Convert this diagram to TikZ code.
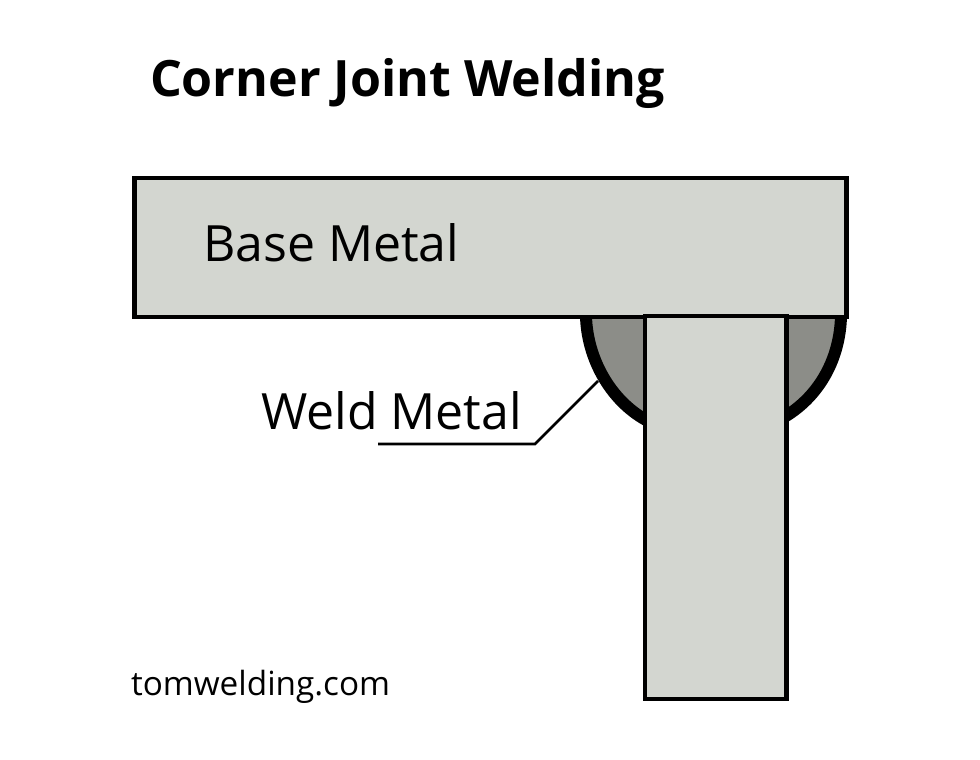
\documentclass[tikz,border=0pt]{standalone}
\usepackage{fontspec}
\setmainfont{Open Sans}
\definecolor{plate}{HTML}{D3D6D0}
\definecolor{weld}{HTML}{8C8D88}
\definecolor{ink}{HTML}{000000}
\tikzset{
  platebox/.style={draw=ink,fill=plate,line width=4.6pt,line join=miter,outer sep=0pt,inner sep=0pt,anchor=north west},
  label/.style={anchor=base west,inner sep=0pt,outer sep=0pt,text=ink},
  leader/.style={draw=ink,line width=2.6pt}
}
\begin{document}
\begin{tikzpicture}[x=1pt,y=-1pt]
\useasboundingbox (0,0) rectangle (980,760);
\fill[white] (0,0) rectangle (980,760);
% welds
\fill[weld] (586,316) .. controls (587,358) and (610,400) .. (646,420) -- (646,316) -- cycle;
\fill[weld] (841,316) .. controls (840,358) and (820,395) .. (786,416) -- (786,316) -- cycle;
\draw[ink,line width=12pt] (586,316) .. controls (587,358) and (610,400) .. (646,420);
\draw[ink,line width=12pt] (841,316) .. controls (840,358) and (820,395) .. (786,416);
% plates
\node[platebox,minimum width=712pt,minimum height=139pt] (base) at (134.5,178) {};
\node[platebox,minimum width=141.5pt,minimum height=383pt] (web) at (645,316) {};
% texts
\node[label,font=\bfseries\fontsize{50.1}{50}\selectfont] (title) at (150,96) {Corner Joint Welding};
\node[label,font=\fontsize{50}{50}\selectfont] (bm) at (203,261) {Base Metal};
\node[label,font=\fontsize{50}{50}\selectfont] (wm) at (261,429) {Weld Metal};
\node[label,font=\fontsize{33.3}{34}\selectfont] (site) at (131,695) {tomwelding.com};
% leader
\coordinate (la) at (378,444);
\coordinate (lb) at (535,444);
\coordinate (lc) at (598,381);
\draw[leader] (la) -- (lb) -- (lc);
\end{tikzpicture}
\end{document}
